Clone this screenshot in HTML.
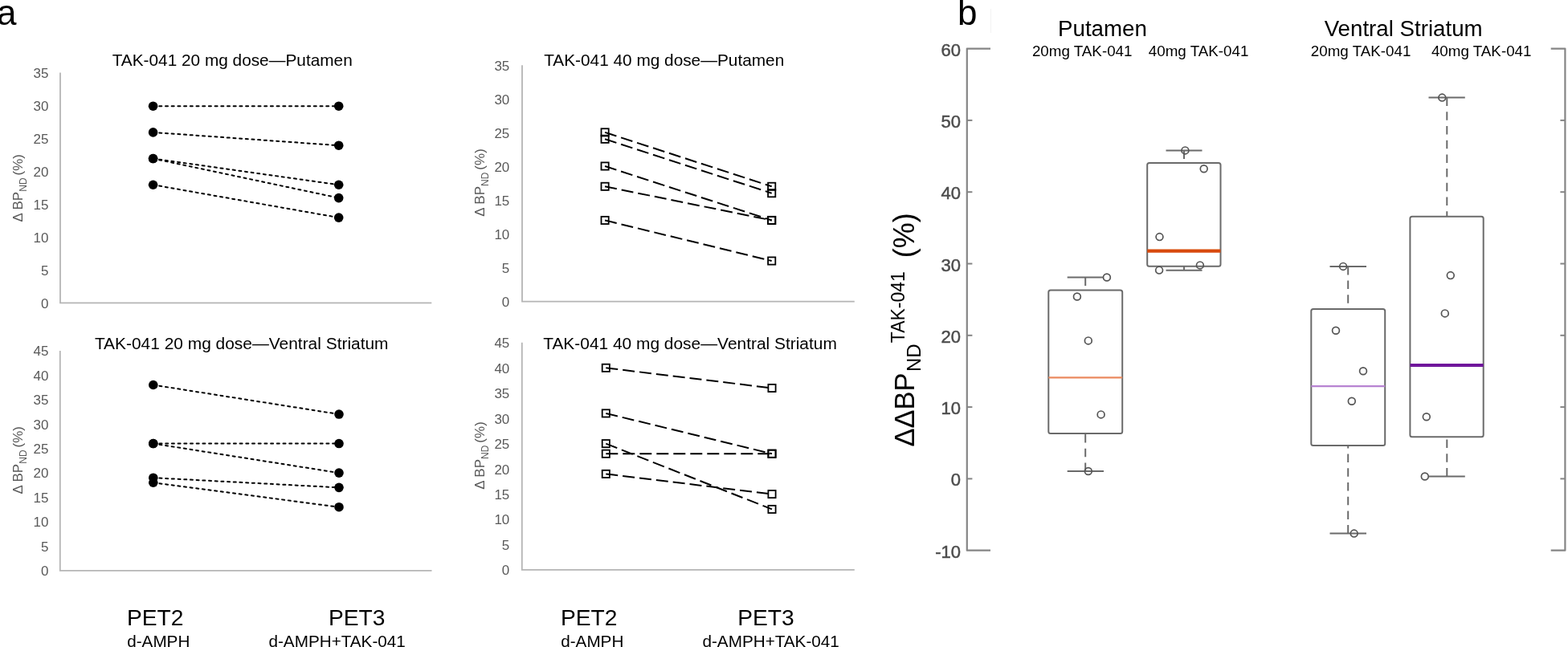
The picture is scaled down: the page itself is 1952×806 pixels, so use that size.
<!DOCTYPE html>
<html><head><meta charset="utf-8"><title>Figure</title>
<style>
html,body{margin:0;padding:0;background:#fff;}
body{width:1952px;height:806px;overflow:hidden;}
svg{display:block;font-family:"Liberation Sans", Arial, sans-serif;}
</style></head><body>
<svg width="1952" height="806" viewBox="0 0 1952 806">
<defs><filter id="soft" x="-2%" y="-2%" width="104%" height="104%"><feGaussianBlur stdDeviation="0.35"/></filter></defs>
<rect width="1952" height="806" fill="#fff"/>
<text x="-4" y="30.5" font-size="44" fill="#000">a</text>
<text x="1192" y="30.5" font-size="44" fill="#000">b</text>
<path d="M75 90.6V377.3H537.3" fill="none" stroke="#b5b5b5" stroke-width="1.8"/>
<text x="60.5" y="383.7" font-size="17" fill="#595959" text-anchor="end">0</text>
<text x="60.5" y="342.74" font-size="17" fill="#595959" text-anchor="end">5</text>
<text x="60.5" y="301.79" font-size="17" fill="#595959" text-anchor="end">10</text>
<text x="60.5" y="260.83" font-size="17" fill="#595959" text-anchor="end">15</text>
<text x="60.5" y="219.87" font-size="17" fill="#595959" text-anchor="end">20</text>
<text x="60.5" y="178.91" font-size="17" fill="#595959" text-anchor="end">25</text>
<text x="60.5" y="137.96" font-size="17" fill="#595959" text-anchor="end">30</text>
<text x="60.5" y="97" font-size="17" fill="#595959" text-anchor="end">35</text>
<text x="139.7" y="82" font-size="20.8" fill="#000">TAK-041 20 mg dose&#8212;Putamen</text>
<text transform="translate(28.4 234.3) rotate(-90)" font-size="17" fill="#595959" text-anchor="middle">&#916; BP<tspan font-size="12" dy="4.5">ND</tspan><tspan dy="-4.5" dx="3">(%)</tspan></text>
<line x1="190.6" y1="132.2" x2="421.7" y2="132.2" stroke="#000" stroke-dasharray="3 4.7" stroke-width="2" stroke-linecap="round"/>
<line x1="190.6" y1="164.88" x2="421.7" y2="181.22" stroke="#000" stroke-dasharray="3 4.7" stroke-width="2" stroke-linecap="round"/>
<line x1="190.6" y1="197.56" x2="421.7" y2="230.24" stroke="#000" stroke-dasharray="3 4.7" stroke-width="2" stroke-linecap="round"/>
<line x1="190.6" y1="197.56" x2="421.7" y2="246.58" stroke="#000" stroke-dasharray="3 4.7" stroke-width="2" stroke-linecap="round"/>
<line x1="190.6" y1="230.24" x2="421.7" y2="271.09" stroke="#000" stroke-dasharray="3 4.7" stroke-width="2" stroke-linecap="round"/>
<circle cx="190.6" cy="132.2" r="5.8" fill="#000"/>
<circle cx="421.7" cy="132.2" r="5.8" fill="#000"/>
<circle cx="190.6" cy="164.88" r="5.8" fill="#000"/>
<circle cx="421.7" cy="181.22" r="5.8" fill="#000"/>
<circle cx="190.6" cy="197.56" r="5.8" fill="#000"/>
<circle cx="421.7" cy="230.24" r="5.8" fill="#000"/>
<circle cx="190.6" cy="197.56" r="5.8" fill="#000"/>
<circle cx="421.7" cy="246.58" r="5.8" fill="#000"/>
<circle cx="190.6" cy="230.24" r="5.8" fill="#000"/>
<circle cx="421.7" cy="271.09" r="5.8" fill="#000"/>
<path d="M74.8 436.89V710.85H537.5" fill="none" stroke="#b5b5b5" stroke-width="1.8"/>
<text x="60.5" y="717.25" font-size="17" fill="#595959" text-anchor="end">0</text>
<text x="60.5" y="686.81" font-size="17" fill="#595959" text-anchor="end">5</text>
<text x="60.5" y="656.37" font-size="17" fill="#595959" text-anchor="end">10</text>
<text x="60.5" y="625.93" font-size="17" fill="#595959" text-anchor="end">15</text>
<text x="60.5" y="595.49" font-size="17" fill="#595959" text-anchor="end">20</text>
<text x="60.5" y="565.05" font-size="17" fill="#595959" text-anchor="end">25</text>
<text x="60.5" y="534.61" font-size="17" fill="#595959" text-anchor="end">30</text>
<text x="60.5" y="504.17" font-size="17" fill="#595959" text-anchor="end">35</text>
<text x="60.5" y="473.73" font-size="17" fill="#595959" text-anchor="end">40</text>
<text x="60.5" y="443.29" font-size="17" fill="#595959" text-anchor="end">45</text>
<text x="117.9" y="434.6" font-size="20.92" fill="#000">TAK-041 20 mg dose&#8212;Ventral Striatum</text>
<text transform="translate(28.4 573.3) rotate(-90)" font-size="17" fill="#595959" text-anchor="middle">&#916; BP<tspan font-size="12" dy="4.5">ND</tspan><tspan dy="-4.5" dx="3">(%)</tspan></text>
<line x1="190.8" y1="479.51" x2="422" y2="516.03" stroke="#000" stroke-dasharray="3 4.7" stroke-width="2" stroke-linecap="round"/>
<line x1="190.8" y1="552.56" x2="422" y2="552.56" stroke="#000" stroke-dasharray="3 4.7" stroke-width="2" stroke-linecap="round"/>
<line x1="190.8" y1="552.56" x2="422" y2="589.09" stroke="#000" stroke-dasharray="3 4.7" stroke-width="2" stroke-linecap="round"/>
<line x1="190.8" y1="595.18" x2="422" y2="607.35" stroke="#000" stroke-dasharray="3 4.7" stroke-width="2" stroke-linecap="round"/>
<line x1="190.8" y1="601.27" x2="422" y2="631.71" stroke="#000" stroke-dasharray="3 4.7" stroke-width="2" stroke-linecap="round"/>
<circle cx="190.8" cy="479.51" r="5.8" fill="#000"/>
<circle cx="422" cy="516.03" r="5.8" fill="#000"/>
<circle cx="190.8" cy="552.56" r="5.8" fill="#000"/>
<circle cx="422" cy="552.56" r="5.8" fill="#000"/>
<circle cx="190.8" cy="552.56" r="5.8" fill="#000"/>
<circle cx="422" cy="589.09" r="5.8" fill="#000"/>
<circle cx="190.8" cy="595.18" r="5.8" fill="#000"/>
<circle cx="422" cy="607.35" r="5.8" fill="#000"/>
<circle cx="190.8" cy="601.27" r="5.8" fill="#000"/>
<circle cx="422" cy="631.71" r="5.8" fill="#000"/>
<path d="M650 81.2V375.6H1063.8" fill="none" stroke="#b5b5b5" stroke-width="1.8"/>
<text x="634.3" y="382" font-size="17" fill="#595959" text-anchor="end">0</text>
<text x="634.3" y="339.94" font-size="17" fill="#595959" text-anchor="end">5</text>
<text x="634.3" y="297.89" font-size="17" fill="#595959" text-anchor="end">10</text>
<text x="634.3" y="255.83" font-size="17" fill="#595959" text-anchor="end">15</text>
<text x="634.3" y="213.77" font-size="17" fill="#595959" text-anchor="end">20</text>
<text x="634.3" y="171.71" font-size="17" fill="#595959" text-anchor="end">25</text>
<text x="634.3" y="129.66" font-size="17" fill="#595959" text-anchor="end">30</text>
<text x="634.3" y="87.6" font-size="17" fill="#595959" text-anchor="end">35</text>
<text x="677.2" y="82" font-size="20.8" fill="#000">TAK-041 40 mg dose&#8212;Putamen</text>
<text transform="translate(603 227.5) rotate(-90)" font-size="17" fill="#595959" text-anchor="middle">&#916; BP<tspan font-size="12" dy="4.5">ND</tspan><tspan dy="-4.5" dx="3">(%)</tspan></text>
<line x1="753.1" y1="164.85" x2="960.7" y2="232.29" stroke="#000" stroke-dasharray="15 6" stroke-width="2"/>
<line x1="753.1" y1="173.28" x2="960.7" y2="240.72" stroke="#000" stroke-dasharray="15 6" stroke-width="2"/>
<line x1="753.1" y1="207" x2="960.7" y2="274.44" stroke="#000" stroke-dasharray="15 6" stroke-width="2"/>
<line x1="753.1" y1="232.29" x2="960.7" y2="274.44" stroke="#000" stroke-dasharray="15 6" stroke-width="2"/>
<line x1="753.1" y1="274.44" x2="960.7" y2="325.02" stroke="#000" stroke-dasharray="15 6" stroke-width="2"/>
<rect x="748.5" y="160.25" width="9.2" height="9.2" fill="none" stroke="#000" stroke-width="1.8"/>
<rect x="956.1" y="227.69" width="9.2" height="9.2" fill="none" stroke="#000" stroke-width="1.8"/>
<rect x="748.5" y="168.68" width="9.2" height="9.2" fill="none" stroke="#000" stroke-width="1.8"/>
<rect x="956.1" y="236.12" width="9.2" height="9.2" fill="none" stroke="#000" stroke-width="1.8"/>
<rect x="748.5" y="202.4" width="9.2" height="9.2" fill="none" stroke="#000" stroke-width="1.8"/>
<rect x="956.1" y="269.84" width="9.2" height="9.2" fill="none" stroke="#000" stroke-width="1.8"/>
<rect x="748.5" y="227.69" width="9.2" height="9.2" fill="none" stroke="#000" stroke-width="1.8"/>
<rect x="956.1" y="269.84" width="9.2" height="9.2" fill="none" stroke="#000" stroke-width="1.8"/>
<rect x="748.5" y="269.84" width="9.2" height="9.2" fill="none" stroke="#000" stroke-width="1.8"/>
<rect x="956.1" y="320.42" width="9.2" height="9.2" fill="none" stroke="#000" stroke-width="1.8"/>
<path d="M649.8 426.85V709.9H1063.8" fill="none" stroke="#b5b5b5" stroke-width="1.8"/>
<text x="634.3" y="716.3" font-size="17" fill="#595959" text-anchor="end">0</text>
<text x="634.3" y="684.85" font-size="17" fill="#595959" text-anchor="end">5</text>
<text x="634.3" y="653.4" font-size="17" fill="#595959" text-anchor="end">10</text>
<text x="634.3" y="621.95" font-size="17" fill="#595959" text-anchor="end">15</text>
<text x="634.3" y="590.5" font-size="17" fill="#595959" text-anchor="end">20</text>
<text x="634.3" y="559.05" font-size="17" fill="#595959" text-anchor="end">25</text>
<text x="634.3" y="527.6" font-size="17" fill="#595959" text-anchor="end">30</text>
<text x="634.3" y="496.15" font-size="17" fill="#595959" text-anchor="end">35</text>
<text x="634.3" y="464.7" font-size="17" fill="#595959" text-anchor="end">40</text>
<text x="634.3" y="433.25" font-size="17" fill="#595959" text-anchor="end">45</text>
<text x="676.2" y="435" font-size="20.92" fill="#000">TAK-041 40 mg dose&#8212;Ventral Striatum</text>
<text transform="translate(603 567.5) rotate(-90)" font-size="17" fill="#595959" text-anchor="middle">&#916; BP<tspan font-size="12" dy="4.5">ND</tspan><tspan dy="-4.5" dx="3">(%)</tspan></text>
<line x1="754.3" y1="458.3" x2="961" y2="483.46" stroke="#000" stroke-dasharray="15 6" stroke-width="2"/>
<line x1="754.3" y1="514.91" x2="961" y2="565.23" stroke="#000" stroke-dasharray="15 6" stroke-width="2"/>
<line x1="754.3" y1="552.65" x2="961" y2="634.42" stroke="#000" stroke-dasharray="15 6" stroke-width="2"/>
<line x1="754.3" y1="565.23" x2="961" y2="565.23" stroke="#000" stroke-dasharray="15 6" stroke-width="2"/>
<line x1="754.3" y1="590.39" x2="961" y2="615.55" stroke="#000" stroke-dasharray="15 6" stroke-width="2"/>
<rect x="749.7" y="453.7" width="9.2" height="9.2" fill="none" stroke="#000" stroke-width="1.8"/>
<rect x="956.4" y="478.86" width="9.2" height="9.2" fill="none" stroke="#000" stroke-width="1.8"/>
<rect x="749.7" y="510.31" width="9.2" height="9.2" fill="none" stroke="#000" stroke-width="1.8"/>
<rect x="956.4" y="560.63" width="9.2" height="9.2" fill="none" stroke="#000" stroke-width="1.8"/>
<rect x="749.7" y="548.05" width="9.2" height="9.2" fill="none" stroke="#000" stroke-width="1.8"/>
<rect x="956.4" y="629.82" width="9.2" height="9.2" fill="none" stroke="#000" stroke-width="1.8"/>
<rect x="749.7" y="560.63" width="9.2" height="9.2" fill="none" stroke="#000" stroke-width="1.8"/>
<rect x="956.4" y="560.63" width="9.2" height="9.2" fill="none" stroke="#000" stroke-width="1.8"/>
<rect x="749.7" y="585.79" width="9.2" height="9.2" fill="none" stroke="#000" stroke-width="1.8"/>
<rect x="956.4" y="610.95" width="9.2" height="9.2" fill="none" stroke="#000" stroke-width="1.8"/>
<text x="157.9" y="779" font-size="28.2" fill="#000">PET2</text>
<text x="158.2" y="806" font-size="20.7" fill="#000">d-AMPH</text>
<text x="444.25" y="779" font-size="28.2" fill="#000" text-anchor="middle">PET3</text>
<text x="419.65" y="806" font-size="20.7" fill="#000" text-anchor="middle">d-AMPH+TAK-041</text>
<text x="697.9" y="779" font-size="28.2" fill="#000">PET2</text>
<text x="698.2" y="806" font-size="20.7" fill="#000">d-AMPH</text>
<text x="953.5" y="779" font-size="28.2" fill="#000" text-anchor="middle">PET3</text>
<text x="959.65" y="806" font-size="20.7" fill="#000" text-anchor="middle">d-AMPH+TAK-041</text>
<text x="1372.45" y="45.3" font-size="27.7" fill="#000" text-anchor="middle">Putamen</text>
<text x="1747.15" y="45.3" font-size="27.7" fill="#000" text-anchor="middle">Ventral Striatum</text>
<text x="1347.2" y="69.7" font-size="18.8" fill="#000" text-anchor="middle">20mg TAK-041</text>
<text x="1492.1" y="69.7" font-size="18.8" fill="#000" text-anchor="middle">40mg TAK-041</text>
<text x="1694.1" y="69.7" font-size="18.8" fill="#000" text-anchor="middle">20mg TAK-041</text>
<text x="1844.2" y="69.7" font-size="18.8" fill="#000" text-anchor="middle">40mg TAK-041</text>
<text transform="translate(1137.7 556.6) rotate(-90)" font-size="34.5" fill="#000">&#916;&#916;BP</text>
<text transform="translate(1146 463.1) rotate(-90)" font-size="24" fill="#000">ND</text>
<text transform="translate(1126 427.2) rotate(-90)" font-size="23" fill="#000">TAK-041</text>
<text transform="translate(1138 321.2) rotate(-90)" font-size="36" fill="#000">(%)</text>
<line x1="1233.5" y1="11" x2="1233.5" y2="41" stroke="#f3f3f3" stroke-width="1"/>
<g filter="url(#soft)">
<path d="M1233 60.6H1203.8V685.7H1233" fill="none" stroke="#858585" stroke-width="2.2" stroke-linejoin="round"/>
<path d="M1930.7 60.6H1948.4V685.7H1930.7" fill="none" stroke="#858585" stroke-width="2.2" stroke-linejoin="round"/>
<line x1="1203.8" y1="596.4" x2="1210.4" y2="596.4" stroke="#858585" stroke-width="2"/>
<line x1="1948.4" y1="596.4" x2="1942.4" y2="596.4" stroke="#858585" stroke-width="2"/>
<line x1="1203.8" y1="507.1" x2="1210.4" y2="507.1" stroke="#858585" stroke-width="2"/>
<line x1="1948.4" y1="507.1" x2="1942.4" y2="507.1" stroke="#858585" stroke-width="2"/>
<line x1="1203.8" y1="417.8" x2="1210.4" y2="417.8" stroke="#858585" stroke-width="2"/>
<line x1="1948.4" y1="417.8" x2="1942.4" y2="417.8" stroke="#858585" stroke-width="2"/>
<line x1="1203.8" y1="328.5" x2="1210.4" y2="328.5" stroke="#858585" stroke-width="2"/>
<line x1="1948.4" y1="328.5" x2="1942.4" y2="328.5" stroke="#858585" stroke-width="2"/>
<line x1="1203.8" y1="239.2" x2="1210.4" y2="239.2" stroke="#858585" stroke-width="2"/>
<line x1="1948.4" y1="239.2" x2="1942.4" y2="239.2" stroke="#858585" stroke-width="2"/>
<line x1="1203.8" y1="149.9" x2="1210.4" y2="149.9" stroke="#858585" stroke-width="2"/>
<line x1="1948.4" y1="149.9" x2="1942.4" y2="149.9" stroke="#858585" stroke-width="2"/>
<text x="1196" y="694.7" font-size="22" fill="#4d4d4d" stroke="#4d4d4d" stroke-width="0.5" text-anchor="end">-10</text>
<text x="1196" y="605.4" font-size="22" fill="#4d4d4d" stroke="#4d4d4d" stroke-width="0.5" text-anchor="end">0</text>
<text x="1196" y="516.1" font-size="22" fill="#4d4d4d" stroke="#4d4d4d" stroke-width="0.5" text-anchor="end">10</text>
<text x="1196" y="426.8" font-size="22" fill="#4d4d4d" stroke="#4d4d4d" stroke-width="0.5" text-anchor="end">20</text>
<text x="1196" y="337.5" font-size="22" fill="#4d4d4d" stroke="#4d4d4d" stroke-width="0.5" text-anchor="end">30</text>
<text x="1196" y="248.2" font-size="22" fill="#4d4d4d" stroke="#4d4d4d" stroke-width="0.5" text-anchor="end">40</text>
<text x="1196" y="158.9" font-size="22" fill="#4d4d4d" stroke="#4d4d4d" stroke-width="0.5" text-anchor="end">50</text>
<text x="1196" y="69.6" font-size="22" fill="#4d4d4d" stroke="#4d4d4d" stroke-width="0.5" text-anchor="end">60</text>
<line x1="1351.2" y1="345.5" x2="1351.2" y2="361.6" stroke="#6b6b6b" stroke-width="2" stroke-dasharray="10.5 7.2"/>
<line x1="1351.2" y1="587" x2="1351.2" y2="539.9" stroke="#6b6b6b" stroke-width="2" stroke-dasharray="10.5 7.2"/>
<line x1="1328.7" y1="345.5" x2="1374" y2="345.5" stroke="#6b6b6b" stroke-width="2"/>
<line x1="1328.7" y1="587" x2="1374" y2="587" stroke="#6b6b6b" stroke-width="2"/>
<rect x="1305.3" y="361.6" width="91.9" height="178.3" rx="2.5" fill="none" stroke="#6b6b6b" stroke-width="2"/>
<line x1="1305.3" y1="470.4" x2="1397.2" y2="470.4" stroke="#eb8a5e" stroke-width="2.2"/>
<circle cx="1377.9" cy="345.5" r="4.4" fill="none" stroke="#555" stroke-width="1.7"/>
<circle cx="1340.9" cy="369.5" r="4.4" fill="none" stroke="#555" stroke-width="1.7"/>
<circle cx="1354.8" cy="424.4" r="4.4" fill="none" stroke="#555" stroke-width="1.7"/>
<circle cx="1370.6" cy="516.4" r="4.4" fill="none" stroke="#555" stroke-width="1.7"/>
<circle cx="1354.8" cy="587" r="4.4" fill="none" stroke="#555" stroke-width="1.7"/>
<line x1="1474" y1="187.4" x2="1474" y2="203.1" stroke="#6b6b6b" stroke-width="2" stroke-dasharray="10.5 7.2"/>
<line x1="1474" y1="336.7" x2="1474" y2="331.8" stroke="#6b6b6b" stroke-width="2" stroke-dasharray="10.5 7.2"/>
<line x1="1451.5" y1="187.4" x2="1496.5" y2="187.4" stroke="#6b6b6b" stroke-width="2"/>
<line x1="1451.5" y1="336.7" x2="1496.5" y2="336.7" stroke="#6b6b6b" stroke-width="2"/>
<rect x="1428.2" y="203.1" width="91.3" height="128.7" rx="2.5" fill="none" stroke="#6b6b6b" stroke-width="2"/>
<line x1="1428.2" y1="312.7" x2="1519.5" y2="312.7" stroke="#d84a0c" stroke-width="4.3"/>
<circle cx="1475.4" cy="187.4" r="4.4" fill="none" stroke="#555" stroke-width="1.7"/>
<circle cx="1498.7" cy="210.2" r="4.4" fill="none" stroke="#555" stroke-width="1.7"/>
<circle cx="1443.5" cy="295.1" r="4.4" fill="none" stroke="#555" stroke-width="1.7"/>
<circle cx="1493.9" cy="330.4" r="4.4" fill="none" stroke="#555" stroke-width="1.7"/>
<circle cx="1443.1" cy="336.6" r="4.4" fill="none" stroke="#555" stroke-width="1.7"/>
<line x1="1678.2" y1="331.9" x2="1678.2" y2="384.9" stroke="#6b6b6b" stroke-width="2" stroke-dasharray="10.5 7.2"/>
<line x1="1678.2" y1="664.6" x2="1678.2" y2="555" stroke="#6b6b6b" stroke-width="2" stroke-dasharray="10.5 7.2"/>
<line x1="1655.5" y1="331.9" x2="1701" y2="331.9" stroke="#6b6b6b" stroke-width="2"/>
<line x1="1655.5" y1="664.6" x2="1701" y2="664.6" stroke="#6b6b6b" stroke-width="2"/>
<rect x="1632.3" y="384.9" width="91.9" height="170.1" rx="2.5" fill="none" stroke="#6b6b6b" stroke-width="2"/>
<line x1="1632.3" y1="481.2" x2="1724.2" y2="481.2" stroke="#b783d2" stroke-width="2.2"/>
<circle cx="1672.1" cy="331.9" r="4.4" fill="none" stroke="#555" stroke-width="1.7"/>
<circle cx="1663" cy="411.8" r="4.4" fill="none" stroke="#555" stroke-width="1.7"/>
<circle cx="1697" cy="462.2" r="4.4" fill="none" stroke="#555" stroke-width="1.7"/>
<circle cx="1682.8" cy="499.8" r="4.4" fill="none" stroke="#555" stroke-width="1.7"/>
<circle cx="1685.7" cy="664.6" r="4.4" fill="none" stroke="#555" stroke-width="1.7"/>
<line x1="1801.3" y1="121.6" x2="1801.3" y2="269.8" stroke="#6b6b6b" stroke-width="2" stroke-dasharray="10.5 7.2"/>
<line x1="1801.3" y1="593.5" x2="1801.3" y2="544.2" stroke="#6b6b6b" stroke-width="2" stroke-dasharray="10.5 7.2"/>
<line x1="1778.5" y1="121.6" x2="1823.8" y2="121.6" stroke="#6b6b6b" stroke-width="2"/>
<line x1="1778.5" y1="593.5" x2="1823.8" y2="593.5" stroke="#6b6b6b" stroke-width="2"/>
<rect x="1755.4" y="269.8" width="91.3" height="274.4" rx="2.5" fill="none" stroke="#6b6b6b" stroke-width="2"/>
<line x1="1755.4" y1="455" x2="1846.7" y2="455" stroke="#70199b" stroke-width="4"/>
<circle cx="1795.3" cy="121.6" r="4.4" fill="none" stroke="#555" stroke-width="1.7"/>
<circle cx="1805.8" cy="343.1" r="4.4" fill="none" stroke="#555" stroke-width="1.7"/>
<circle cx="1798.8" cy="390.4" r="4.4" fill="none" stroke="#555" stroke-width="1.7"/>
<circle cx="1775.8" cy="519.2" r="4.4" fill="none" stroke="#555" stroke-width="1.7"/>
<circle cx="1773.8" cy="593.5" r="4.4" fill="none" stroke="#555" stroke-width="1.7"/>
</g>
</svg>
</body></html>
